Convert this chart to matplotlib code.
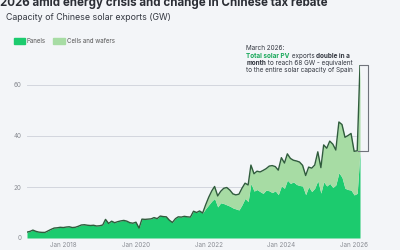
import numpy as np
import pandas as pd
import matplotlib
matplotlib.use('Agg')
import matplotlib.pyplot as plt
import matplotlib.dates as mdates
from matplotlib.patches import Patch

plt.rcParams['font.family'] = ['Inter', 'DejaVu Sans']

# monthly data, Jan 2017 - Mar 2026 (GW)
months = pd.date_range('2017-01-01', '2026-03-01', freq='MS')

total = [2.3, 2.6, 3.1, 2.6, 2.3, 2.2, 2.2, 2.8, 3.4, 3.9, 4.0, 4.2,
         4.1, 4.3, 4.4, 4.1, 4.2, 4.6, 5.1, 5.2, 5.0, 4.9, 5.0, 4.7,
         4.8, 5.1, 7.3, 5.7, 6.6, 6.0, 6.4, 6.7, 6.9, 6.6, 6.0, 5.8,
         6.2, 3.9, 7.4, 7.3, 7.4, 7.5, 8.0, 7.6, 8.6, 8.4, 8.3, 7.0,
         6.1, 7.6, 8.3, 8.2, 8.5, 8.3, 8.2, 10.5, 10.0, 10.6, 9.8, 13.0,
         16.0, 18.5, 20.2, 16.5, 18.3, 19.5, 19.8, 18.8, 17.3, 16.9, 17.2, 19.5,
         21.5, 20.8, 28.6, 25.2, 26.2, 25.9, 26.5, 27.2, 28.2, 28.4, 28.0, 26.6,
         31.5, 29.4, 33.0, 31.2, 30.5, 30.2, 29.8, 28.5, 24.5, 27.8, 27.4, 28.6,
         33.8, 27.6, 36.5, 35.2, 38.0, 36.8, 34.5, 45.5, 44.5, 39.5, 40.2, 41.0,
         34.0, 34.2, 68.0]

panels = total[:59] + [
    11.5,
    13.0, 14.5, 15.5, 12.2, 13.8, 13.5, 13.0, 12.5, 11.8, 11.4, 11.0, 13.0,
    15.5, 14.3, 21.4, 18.4, 19.0, 18.2, 17.5, 18.8, 18.5, 17.8, 18.5, 17.0,
    20.4, 19.5, 22.7, 21.4, 22.0, 21.0, 20.6, 20.4, 17.0, 20.1, 18.2, 19.5,
    22.5, 17.6, 22.0, 20.4, 21.4, 19.8, 20.8, 25.6, 23.8, 19.5, 19.0, 18.8,
    16.9, 17.5, 34.0]

bg = '#f3f5f8'
c_panels = '#1ccb6e'
c_cells = '#a7dca4'
c_line = '#2f5c3c'
c_text = '#333740'

fig = plt.figure(figsize=(4, 2.5), dpi=100, facecolor=bg)
ax = fig.add_axes([27/400, 12/250, 333/400, 173.4/250])
ax.set_facecolor(bg)

ax.fill_between(months, 0, panels, color=c_panels, lw=0, zorder=2)
ax.fill_between(months, panels, total, color=c_cells, lw=0, zorder=2)
ax.plot(months, total, color=c_line, lw=1.0, zorder=3)

ax.set_xlim(months[0], months[-1])
ax.set_ylim(0, 68)
ax.set_yticks([0, 20, 40, 60])
ax.grid(axis='y', color='#d3d6de', lw=0.7, zorder=1)
for s in ax.spines.values():
    s.set_visible(False)
ax.tick_params(length=0, labelsize=4.5, labelcolor='#8a8d94', pad=4)
ax.xaxis.set_major_locator(mdates.YearLocator(2, month=1, day=1))
ax.xaxis.set_major_formatter(mdates.DateFormatter('Jan %Y'))
ax.tick_params(axis='x', pad=3)

# bracket for the last jump
x_end = mdates.date2num(months[-1])
x_br = x_end + 80
ax.plot([x_end, x_br, x_br, x_end - 25], [68, 68, total[-2], total[-2]],
        color='#70747c', lw=0.8, clip_on=False, zorder=4)

# annotation text
fs = 4.6
t0 = ax.text(0.659, 1.085, 'March 2026:', transform=ax.transAxes, fontsize=fs,
             color=c_text, va='baseline')
t1 = ax.annotate('Total solar PV', xy=(0, -1.35), xycoords=t0, fontsize=fs,
                 color='#18a85a', weight='bold', va='bottom')
t2 = ax.annotate(' exports ', xy=(1, 0), xycoords=t1, fontsize=fs,
                 color=c_text, va='bottom')
t3 = ax.annotate('double in a', xy=(1, 0), xycoords=t2, fontsize=fs,
                 color=c_text, weight='bold', va='bottom')
t4 = ax.annotate('month', xy=(0, -1.2), xycoords=t1, fontsize=fs,
                 color=c_text, weight='bold', va='bottom')
t5 = ax.annotate(' to reach 68 GW - equivalent', xy=(1, 0), xycoords=t4,
                 fontsize=fs, color=c_text, va='bottom')
t6 = ax.annotate('to the entire solar capacity of Spain', xy=(0, -1.2),
                 xycoords=t4, fontsize=fs, color=c_text, va='bottom')

# titles (first title line sits above the visible crop, as in the source)
fig.text(0.5/400, 1 - 6/250, '2026 amid energy crisis and change in Chinese tax rebate',
         fontsize=8.3, weight='bold', color='#2b2e35', va='baseline')
fig.text(6/400, 1 - 18/250, 'Capacity of Chinese solar exports (GW)',
         fontsize=6.35, color=c_text, va='center')

handles = [Patch(color=c_panels), Patch(color=c_cells)]
fig.legend(handles, ['Panels', 'Cells and wafers'], loc='center left',
           bbox_to_anchor=(8/400, 1 - 41/250), ncol=2, fontsize=4.4,
           frameon=False, handlelength=1.9, handleheight=1.0,
           columnspacing=1.2, handletextpad=0.3, labelcolor='#555')

fig.savefig('out.png', dpi=100, facecolor=bg)
